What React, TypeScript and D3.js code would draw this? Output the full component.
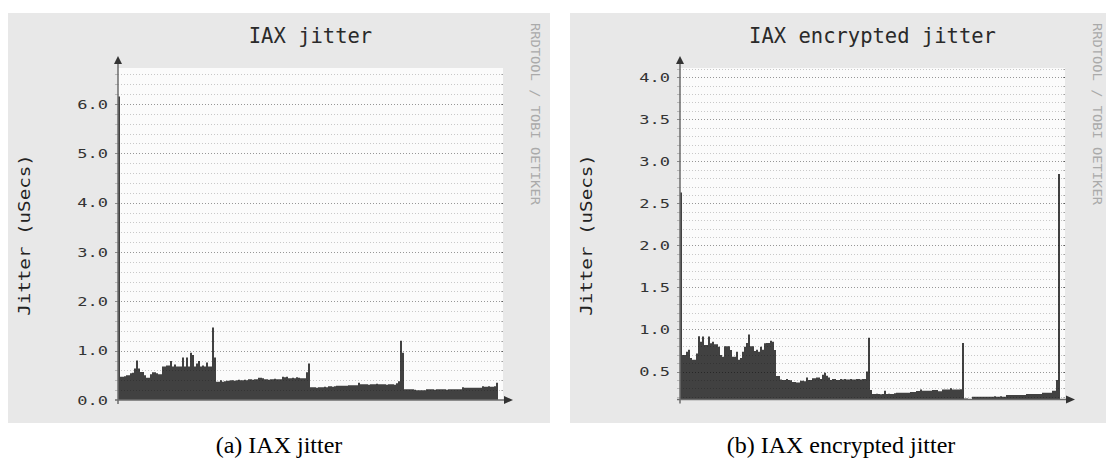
import React from "react";
import * as d3 from "d3";

// ---------- data ----------
const titles = ["IAX jitter", "IAX encrypted jitter"];
const captions = ["(a) IAX jitter", "(b) IAX encrypted jitter"];
const yAxisTitle = "Jitter (uSecs)";
const watermark = "RRDTOOL / TOBI OETIKER";

const iaxJitter = [
  6.15,
  0.47, 0.47, 0.48, 0.5, 0.5,
  0.54, 0.55, 0.64, 0.8, 0.64,
  0.57, 0.57, 0.5, 0.45, 0.45,
  0.52, 0.56, 0.56, 0.54, 0.52,
  0.52, 0.68, 0.68, 0.7, 0.7,
  0.79, 0.68, 0.72, 0.68, 0.68,
  0.68, 0.86, 0.68, 0.86, 0.68,
  0.96, 0.91, 0.68, 0.74, 0.79,
  0.68, 0.7, 0.68, 0.76, 0.68,
  0.68, 1.47, 0.86, 0.37, 0.37,
  0.4, 0.37, 0.38, 0.39, 0.39,
  0.4, 0.4, 0.39, 0.4, 0.41,
  0.4, 0.4, 0.41, 0.4, 0.42,
  0.42, 0.41, 0.42, 0.42, 0.45,
  0.45, 0.44, 0.42, 0.42, 0.41,
  0.42, 0.42, 0.43, 0.42, 0.42,
  0.42, 0.47, 0.46, 0.47, 0.44,
  0.44, 0.45, 0.44, 0.46, 0.45,
  0.44, 0.44, 0.44, 0.56, 0.74,
  0.26, 0.26, 0.26, 0.25, 0.26,
  0.26, 0.26, 0.27, 0.26, 0.28,
  0.28, 0.27, 0.28, 0.29, 0.29,
  0.29, 0.29, 0.29, 0.29, 0.3,
  0.3, 0.3, 0.3, 0.3, 0.35,
  0.32, 0.32, 0.32, 0.32, 0.31,
  0.32, 0.32, 0.32, 0.33, 0.32,
  0.32, 0.32, 0.32, 0.31, 0.32,
  0.32, 0.32, 0.31, 0.34, 0.38,
  1.2, 0.96, 0.22, 0.22, 0.22,
  0.22, 0.22, 0.21, 0.2, 0.2,
  0.2, 0.2, 0.2, 0.22, 0.22,
  0.22, 0.22, 0.21, 0.22, 0.22,
  0.22, 0.22, 0.22, 0.21, 0.22,
  0.22, 0.22, 0.22, 0.22, 0.22,
  0.22, 0.26, 0.25, 0.25, 0.25,
  0.25, 0.25, 0.25, 0.25, 0.25,
  0.25, 0.28, 0.27, 0.27, 0.28,
  0.27, 0.27, 0.28, 0.35,
];

const iaxEncryptedJitter = [
  2.63,
  0.695, 0.695, 0.735, 0.76, 0.66,
  0.64, 0.64, 0.715, 0.92, 0.855,
  0.915, 0.815, 0.815, 0.915, 0.835,
  0.855, 0.825, 0.825, 0.795, 0.695,
  0.675, 0.8, 0.8, 0.8, 0.755,
  0.675, 0.675, 0.735, 0.64, 0.66,
  0.735, 0.795, 0.84, 0.94, 0.8,
  0.8, 0.745, 0.76, 0.735, 0.795,
  0.76, 0.835, 0.84, 0.84, 0.865,
  0.855, 0.755, 0.446, 0.446, 0.406,
  0.4, 0.4, 0.41, 0.4, 0.395,
  0.375, 0.375, 0.37, 0.37, 0.39,
  0.39, 0.385, 0.43, 0.4, 0.4,
  0.42, 0.42, 0.43, 0.43, 0.41,
  0.46, 0.485, 0.45, 0.43, 0.4,
  0.41, 0.41, 0.4, 0.4, 0.41,
  0.405, 0.41, 0.405, 0.405, 0.41,
  0.405, 0.405, 0.41, 0.41, 0.405,
  0.41, 0.41, 0.5, 0.9, 0.28,
  0.232, 0.232, 0.235, 0.232, 0.23,
  0.232, 0.27, 0.232, 0.235, 0.232,
  0.232, 0.24, 0.248, 0.248, 0.248,
  0.248, 0.248, 0.248, 0.248, 0.256,
  0.256, 0.256, 0.268, 0.268, 0.287,
  0.27, 0.27, 0.27, 0.27, 0.27,
  0.28, 0.28, 0.28, 0.265, 0.265,
  0.287, 0.287, 0.287, 0.287, 0.3,
  0.287, 0.287, 0.287, 0.287, 0.29,
  0.84, 0.18, 0.18, 0.168, 0.168,
  0.2, 0.2, 0.2, 0.2, 0.2,
  0.2, 0.2, 0.2, 0.2, 0.2,
  0.2, 0.205, 0.2, 0.2, 0.205,
  0.2, 0.2, 0.22, 0.22, 0.22,
  0.22, 0.22, 0.22, 0.22, 0.22,
  0.22, 0.22, 0.232, 0.232, 0.232,
  0.232, 0.232, 0.232, 0.232, 0.232,
  0.248, 0.248, 0.248, 0.248, 0.248,
  0.27, 0.27, 0.4, 2.85,
];

const leftTickLabels = ["0.0", "1.0", "2.0", "3.0", "4.0", "5.0", "6.0"];
const rightTickLabels = ["0.5", "1.0", "1.5", "2.0", "2.5", "3.0", "3.5", "4.0"];

const leftYDomain = [0, 6.73];
const rightYDomain = [0.167, 4.11];

// ---------- styling / layout ----------
const MONO = "'DejaVu Sans Mono', monospace";
const SERIF = "'Liberation Serif', 'Times New Roman', serif";
const PANEL_BG = "#e8e8e8";
const PLOT_BG = "#fbfbfb";
const AREA = "#414141";

type PanelProps = {
  dx: number;
  title: string;
  caption: string;
  values: number[];
  yDomain: number[];
  bottom: number;
  minorStep: number;
  majorEvery: number;
  tickLabels: string[];
};

function Panel({ dx, title, caption, values, yDomain, bottom, minorStep, majorEvery, tickLabels }: PanelProps) {
  const x0 = 118;
  const x1 = 503;
  const dataRight = 498;
  const top = 68;
  const n = values.length;

  const x = d3.scaleLinear().domain([0, n]).range([x0, dataRight]);
  const y = d3.scaleLinear().domain(yDomain).range([bottom, top]).clamp(true);

  const pts: [number, number][] = values.map((v, i) => [i, v] as [number, number]);
  pts.push([n, values[n - 1]]);
  const area = d3
    .area<[number, number]>()
    .x((d) => x(d[0]))
    .y0(bottom)
    .y1((d) => y(d[1]))
    .curve(d3.curveStepAfter);

  const kLo = Math.ceil(yDomain[0] / minorStep - 1e-9);
  const kHi = Math.floor(yDomain[1] / minorStep + 1e-9);
  const grid = d3
    .range(kLo, kHi + 1)
    .map((k) => ({ v: k * minorStep, major: k % majorEvery === 0 }))
    .filter((g) => y(g.v) < bottom - 1);

  return (
    <g transform={`translate(${dx},0)`}>
      <rect x={8} y={13} width={542} height={410} fill={PANEL_BG} />
      <rect x={x0} y={top} width={x1 - x0} height={bottom - top} fill={PLOT_BG} />
      <path d={area(pts) || ""} fill={AREA} />
      {grid.map((g, i) => {
        const yy = Math.round(y(g.v)) + 0.5;
        const col = g.major ? "rgba(0,0,0,0.4)" : "rgba(0,0,0,0.2)";
        return (
          <g key={i}>
            <line x1={x0} x2={x1} y1={yy} y2={yy} stroke={col} strokeWidth={1} strokeDasharray="1 2" />
            <line x1={x0 - 3} x2={x0} y1={yy} y2={yy} stroke={col} strokeWidth={1} />
            <line x1={x1 - 2} x2={x1} y1={yy} y2={yy} stroke={col} strokeWidth={1} />
          </g>
        );
      })}
      {/* axes */}
      <line x1={x0 - 3} x2={x1 + 1} y1={bottom} y2={bottom} stroke="#6c6c6c" strokeWidth={1.5} />
      <line x1={x0} x2={x0} y1={bottom + 4} y2={top - 4} stroke="#6c6c6c" strokeWidth={1.5} />
      <path d={`M${x0 - 4},${top - 4}L${x0 + 4},${top - 4}L${x0},${top - 12}Z`} fill="#333" />
      <path d={`M${x1 + 1},${bottom - 4}L${x1 + 1},${bottom + 4}L${x1 + 10},${bottom}Z`} fill="#333" />
      {/* y tick labels */}
      {tickLabels.map((s) => (
        <text
          key={s}
          transform={`translate(${x0 - 10},${y(+s) + 4.5}) scale(1.36,1)`}
          textAnchor="end"
          fontFamily={MONO}
          fontSize={12.5}
          fill="#333"
        >
          {s}
        </text>
      ))}
      {/* title */}
      <text x={(x0 + x1) / 2} y={43} textAnchor="middle" fontFamily={MONO} fontSize={20.5} fill="#2a2a2a">
        {title}
      </text>
      {/* y axis title */}
      <text
        transform={`translate(30,235) rotate(-90) scale(1.2,1)`}
        textAnchor="middle"
        fontFamily={MONO}
        fontSize={16}
        fill="#222"
      >
        {yAxisTitle}
      </text>
      {/* watermark */}
      <text
        transform={`translate(531,23) rotate(90) scale(1.1,1)`}
        textAnchor="start"
        fontFamily={MONO}
        fontSize={12.5}
        fill="#aaaaaa"
      >
        {watermark}
      </text>
      {/* caption */}
      <text x={279} y={453} textAnchor="middle" fontFamily={SERIF} fontSize={24} fill="#000">
        {caption}
      </text>
    </g>
  );
}

export default function App() {
  return (
    <svg width={1106} height={467} style={{ position: "absolute", left: 0, top: 0, background: "#fff" }}>
      <Panel
        dx={0}
        title={titles[0]}
        caption={captions[0]}
        values={iaxJitter}
        yDomain={leftYDomain}
        bottom={400}
        minorStep={0.2}
        majorEvery={5}
        tickLabels={leftTickLabels}
      />
      <Panel
        dx={562}
        title={titles[1]}
        caption={captions[1]}
        values={iaxEncryptedJitter}
        yDomain={rightYDomain}
        bottom={399.5}
        minorStep={0.1}
        majorEvery={5}
        tickLabels={rightTickLabels}
      />
    </svg>
  );
}
